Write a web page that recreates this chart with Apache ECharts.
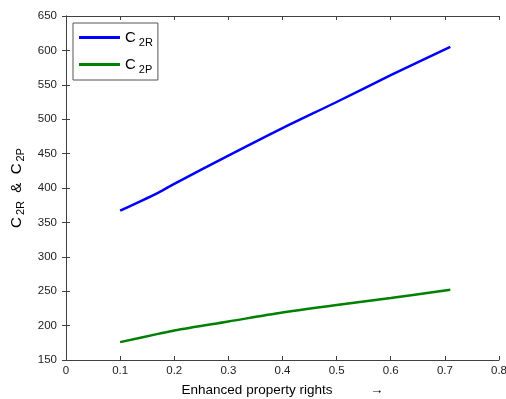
<!DOCTYPE html>
<html>
<head>
<meta charset="utf-8">
<script src="https://cdn.jsdelivr.net/npm/echarts@6/dist/echarts.min.js"></script>
<style>
  html, body { margin: 0; padding: 0; background: #fff; }
  #chart { width: 506px; height: 399px; }
</style>
</head>
<body>
<div id="chart"></div>
<script>
// x values (enhanced property rights)
var xs = [0.1, 0.17, 0.2, 0.3, 0.4, 0.5, 0.6, 0.71];
var c2r = [367, 393, 406, 447, 487, 525, 564, 605];
var c2p = [176, 188, 193, 206, 219, 230, 240, 252];
var xTicks = [0, 0.1, 0.2, 0.3, 0.4, 0.5, 0.6, 0.7, 0.8];
var yTicks = [150, 200, 250, 300, 350, 400, 450, 500, 550, 600, 650];

var FONT = "'Liberation Sans', Arial, sans-serif";
var AX = "#404040";

function pairs(ys) {
  return xs.map(function (x, i) { return [x, ys[i]]; });
}

var chart = echarts.init(document.getElementById("chart"));

var option = {
  animation: false,
  backgroundColor: "#fff",
  grid: { left: 66, right: 7, top: 16, bottom: 39, outerBoundsMode: "none" },
  legend: {
    orient: "vertical",
    left: 73,
    top: 23,
    padding: [7, 5, 5, 6],
    itemGap: 9,
    itemWidth: 41,
    itemHeight: 3,
    icon: "rect",
    borderColor: "#555",
    borderWidth: 1,
    data: ["C2R", "C2P"],
    formatter: function (name) {
      return "{a|C}{b|" + name.slice(1) + "}";
    },
    textStyle: {
      fontFamily: FONT,
      color: "#000",
      rich: {
        a: { fontSize: 15, fontFamily: FONT, color: "#000", padding: [0, 3, 0, 0] },
        b: { fontSize: 11, fontFamily: FONT, color: "#000", padding: [10, 0, 0, 0] }
      }
    }
  },
  xAxis: [
    {
      type: "value",
      min: xTicks[0],
      max: xTicks[xTicks.length - 1],
      interval: 0.1,
      name: "Enhanced property rights          \u2192",
      nameLocation: "middle",
      nameGap: 23,
      nameTextStyle: { fontFamily: FONT, fontSize: 13.5, color: "#000" },
      axisLine: { show: true, lineStyle: { color: AX, width: 1 } },
      axisTick: { show: true, inside: true, length: 4, lineStyle: { color: AX } },
      axisLabel: {
        fontFamily: FONT, fontSize: 11.5, color: "#222", margin: 5,
        formatter: function (v) { return v === 0 ? "0" : String(Math.round(v * 10) / 10); }
      },
      splitLine: { show: false }
    },
    {
      type: "value",
      position: "top",
      min: xTicks[0],
      max: xTicks[xTicks.length - 1],
      interval: 0.1,
      axisLine: { show: true, lineStyle: { color: AX, width: 1 } },
      axisTick: { show: true, inside: true, length: 4, lineStyle: { color: AX } },
      axisLabel: { show: false },
      splitLine: { show: false }
    }
  ],
  yAxis: [
    {
      type: "value",
      min: yTicks[0],
      max: yTicks[yTicks.length - 1],
      interval: 50,
      name: "{a|C}{b|2R}{a|  &  C}{b|2P}",
      nameLocation: "middle",
      nameRotate: 90,
      nameGap: 36,
      nameTextStyle: {
        fontFamily: FONT,
        color: "#000",
        rich: {
          a: { fontSize: 15, fontFamily: FONT, color: "#000" },
          b: { fontSize: 11, fontFamily: FONT, color: "#000", padding: [10, 0, 0, 2] }
        }
      },
      axisLine: { show: true, lineStyle: { color: AX, width: 1 } },
      axisTick: { show: true, inside: true, length: 4, lineStyle: { color: AX } },
      axisLabel: { fontFamily: FONT, fontSize: 11.5, color: "#222", margin: 9 },
      splitLine: { show: false }
    },
    {
      type: "value",
      position: "right",
      min: yTicks[0],
      max: yTicks[yTicks.length - 1],
      interval: 50,
      axisLine: { show: true, lineStyle: { color: AX, width: 1 } },
      axisTick: { show: true, inside: true, length: 4, lineStyle: { color: AX } },
      axisLabel: { show: false },
      splitLine: { show: false }
    }
  ],
  series: [
    {
      name: "C2R",
      type: "line",
      smooth: 0.3,
      symbol: "none",
      data: pairs(c2r),
      lineStyle: { color: "#0000ff", width: 2.5 },
      itemStyle: { color: "#0000ff" }
    },
    {
      name: "C2P",
      type: "line",
      smooth: 0.3,
      symbol: "none",
      data: pairs(c2p),
      lineStyle: { color: "#008000", width: 2.5 },
      itemStyle: { color: "#008000" }
    }
  ]
};

chart.setOption(option);
</script>
</body>
</html>
